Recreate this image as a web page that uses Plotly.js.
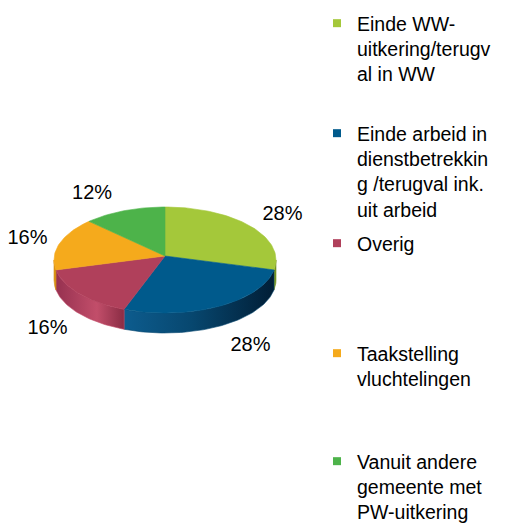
<!DOCTYPE html>
<html>
<head>
<meta charset="utf-8">
<script src="https://cdn.plot.ly/plotly-3.0.1.min.js"></script>
<style>
html,body{margin:0;padding:0;background:#fff;}
#chart{width:508px;height:525px;}
</style>
</head>
<body>
<div id="chart"></div>
<script>
// ---- data ----
var categories = [
  'Einde WW-<br>uitkering/terugv<br>al in WW',
  'Einde arbeid in<br>dienstbetrekkin<br>g /terugval ink.<br>uit arbeid',
  'Overig',
  'Taakstelling<br>vluchtelingen',
  'Vanuit andere<br>gemeente met<br>PW-uitkering'
];
var values = [28, 28, 16, 16, 12];
var topColors = ['#A4C83A', '#005A8C', '#B0405B', '#F5AA1C', '#4DB34A'];
var sideScales = [
  [[0,'#93B52E'],[1,'#6C8A1C']],
  [[0,'#0D5C8E'],[0.45,'#07476F'],[1,'#011E36']],
  [[0,'#963150'],[0.6,'#C24E6A'],[1,'#8A2C44']],
  [[0,'#E39A18'],[1,'#D08A12']],
  [[0,'#3E9A3C'],[1,'#2E7A2E']]
];

// ---- geometry (style) ----
var CX = 165, CY = 260, APEX_Y = 256, RX = 111, RY = 53, DEPTH = 20, STEP = 1.5;
var W = 508, H = 525;
var FONT = 'Liberation Sans, Arial, sans-serif';

var total = values.reduce(function(a,b){return a+b;}, 0);
function pt(deg, dy){
  var r = deg*Math.PI/180;
  return [CX + RX*Math.sin(r), CY - RY*Math.cos(r) + (dy||0)];
}
function arc(a0, a1, dy){
  var pts = [];
  var n = Math.max(2, Math.ceil((a1-a0)/STEP));
  for (var i=0;i<=n;i++){ pts.push(pt(a0 + (a1-a0)*i/n, dy)); }
  return pts;
}

var traces = [], sideTraces = [], topTraces = [];
var cum = 0;
var labX = [], labY = [], labT = [];
values.forEach(function(v, i){
  var a0 = cum/total*360, a1 = (cum+v)/total*360;
  cum += v;
  // side wall (front half only)
  var s = Math.max(a0, 90), e = Math.min(a1, 270);
  if (e > s){
    var topA = arc(s, e, 0), botA = arc(s, e, DEPTH).reverse();
    var poly = topA.concat(botA); poly.push(topA[0]);
    sideTraces.push({
      type:'scatter', mode:'lines', x: poly.map(function(p){return p[0];}), y: poly.map(function(p){return p[1];}),
      fill:'toself', line:{width:0.6, color: sideScales[i][Math.floor(sideScales[i].length/2)][1]},
      fillgradient:{type:'horizontal', colorscale: sideScales[i]},
      hoverinfo:'skip', showlegend:false
    });
  }
  // top surface
  var tp = [[CX, APEX_Y]].concat(arc(a0, a1, 0)); tp.push([CX, APEX_Y]);
  topTraces.push({
    type:'scatter', mode:'lines', x: tp.map(function(p){return p[0];}), y: tp.map(function(p){return p[1];}),
    fill:'toself', fillcolor: topColors[i], line:{width:0.6, color: topColors[i]},
    hoverinfo:'skip', showlegend:false
  });
  // label
  var mid = (a0+a1)/2, mr = mid*Math.PI/180;
  var front = Math.cos(mr) < 0;
  var E = pt(mid, front ? DEPTH : 0);
  labX.push(E[0] + 32*Math.sign(Math.sin(mr)));
  labY.push(E[1] - 20*Math.cos(mr) + 2);
  labT.push(Math.round(v/total*100) + '%');
});
traces = traces.concat(sideTraces, topTraces);
traces.push({
  type:'scatter', mode:'text', x: labX, y: labY, text: labT, textposition:'middle center',
  textfont:{family: FONT, size:20, color:'#000'},
  hoverinfo:'skip', showlegend:false
});

// legend entries (one legend box per category)
var legendTops = [4, 114, 224, 334, 442];
var layout = {
  width: W, height: H,
  margin:{l:0,r:0,t:0,b:0, autoexpand:false},
  paper_bgcolor:'#fff', plot_bgcolor:'#fff',
  xaxis:{range:[0,W], visible:false, fixedrange:true},
  yaxis:{range:[H,0], visible:false, fixedrange:true},
  font:{family: FONT, size:20, color:'#000'}
};
categories.forEach(function(c, i){
  var key = i === 0 ? 'legend' : 'legend' + (i+1);
  traces.push({
    type:'scatter', mode:'markers', x:[null], y:[null], name:c,
    marker:{symbol:'square', size:8, color: topColors[i]},
    legend: key, showlegend:true, hoverinfo:'skip'
  });
  layout[key] = {
    x: (357-40)/W, xanchor:'left', y: 1 - legendTops[i]/H, yanchor:'top',
    valign:'top',
    bgcolor:'rgba(0,0,0,0)', borderwidth:0,
    font:{family: FONT, size:19.5, color:'#000'},
    itemclick:false, itemdoubleclick:false
  };
});

Plotly.newPlot('chart', traces, layout, {displayModeBar:false, staticPlot:true});
</script>
</body>
</html>
